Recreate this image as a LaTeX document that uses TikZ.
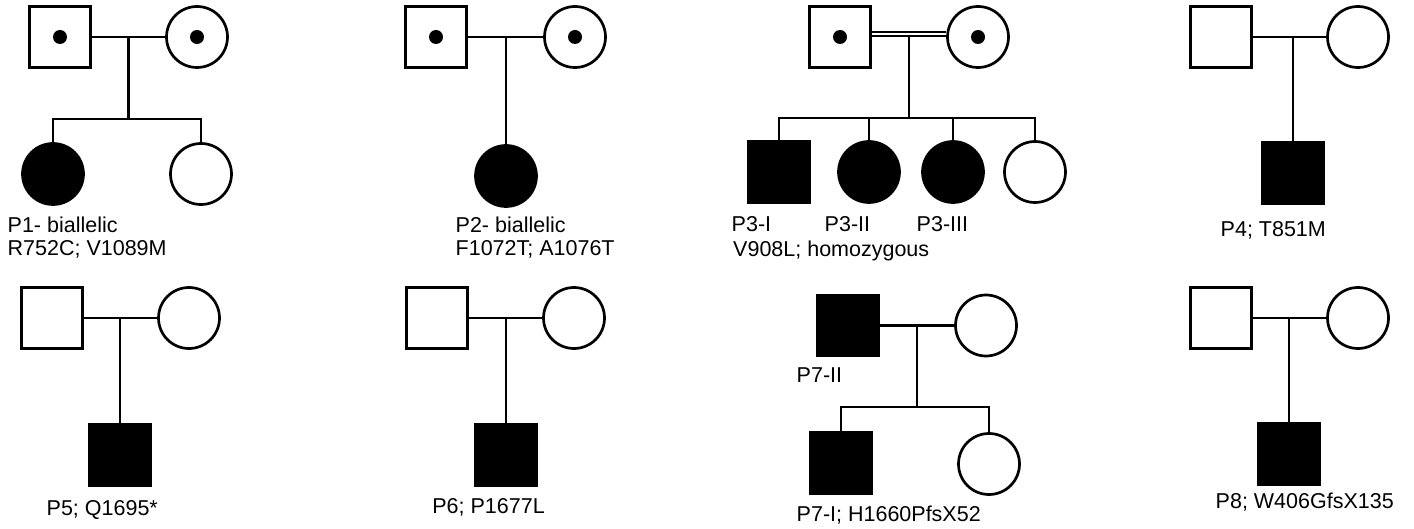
\documentclass[tikz,border=0pt]{standalone}
\usepackage{fontspec}
\setmainfont{Liberation Sans}
\tikzset{
  male/.style={rectangle, draw=black, line width=2.7pt, minimum size=61pt, inner sep=0pt},
  female/.style={circle, draw=black, line width=2.7pt, minimum size=61pt, inner sep=0pt},
  affected/.style={fill=black},
  carrier/.style={path picture={\fill[black] (path picture bounding box.center) circle[radius=7pt];}},
  link/.style={draw=black, line width=2.7pt},
  tag/.style={anchor=base west, inner sep=0pt, font=\fontsize{21.5}{25}\selectfont}
}

\begin{document}
\begin{tikzpicture}[x=1pt, y=-1pt]
    \useasboundingbox (0,0) rectangle (1414,529);

    % 1. Familia P1
    \node[male, carrier] (F1) at (60,37) {};
    \node[female, carrier] (M1) at (197,37) {};
    \node[female, affected] (C1a) at (53,174) {};
    \node[female] (C1b) at (201,174) {};
    \draw[link] (F1) -- (M1) coordinate[pos=.5] (J1);
    \coordinate (S1) at (J1 |- 0,119);
    \draw[link] (J1) -- (S1);
    \draw[link] (C1a.north) |- (S1) -| (C1b.north);
    \node[tag] (L1a) at (7.5,233) {P1- biallelic};
    \node[tag] (L1b) at (7.5,256) {R752C; V1089M};

    % 2. Familia P2
    \node[male, carrier] (F2) at (436,37) {};
    \node[female, carrier] (M2) at (575,37) {};
    \node[female, affected] (C2) at (506,176) {};
    \draw[link] (F2) -- (M2) coordinate[pos=.5] (J2);
    \draw[link] (C2 |- J2) -- (C2);
    \node[tag] (L2a) at (455.5,233) {P2- biallelic};
    \node[tag] (L2b) at (455.5,256) {F1072T; A1076T};

    % 3. Familia P3 (consanguinea)
    \node[male, carrier] (F3) at (840,37) {};
    \node[female, carrier] (M3) at (978,37) {};
    \draw[line width=1.6pt, double, double distance=2pt] ([yshift=3pt]F3.east) -- ([yshift=3pt]M3.west) coordinate[pos=.5] (J3);
    \node[male, affected] (C3a) at (779,172) {};
    \node[female, affected] (C3b) at (869,172) {};
    \node[female, affected] (C3c) at (953,172) {};
    \node[female] (C3d) at (1035,172) {};
    \coordinate (S3) at (J3 |- 0,118);
    \draw[link] ([yshift=-1.8pt]J3) -- (S3);
    \draw[link] (C3a.north) |- (S3) -| (C3d.north);
    \foreach \k in {b,c}
        \draw[link] (C3\k.north) -- (C3\k.north |- S3);
    \node[tag] (L3a) at (731.5,232) {P3-I};
    \node[tag] (L3b) at (824.5,232) {P3-II};
    \node[tag] (L3c) at (916.5,232) {P3-III};
    \node[tag] (L3d) at (733,256.5) {V908L; homozygous};

    % 4. Familia P4
    \node[male] (F4) at (1221,37) {};
    \node[female] (M4) at (1358,37) {};
    \node[male, affected] (C4) at (1293,173) {};
    \draw[link] (F4) -- (M4) coordinate[pos=.5] (J4);
    \draw[link] (C4 |- J4) -- (C4);
    \node[tag] (L4) at (1220.5,237) {P4; T851M};

    % 5. Familia P5
    \node[male] (F5) at (52,318) {};
    \node[female] (M5) at (189,318) {};
    \node[male, affected] (C5) at (120,455) {};
    \draw[link] (F5) -- (M5) coordinate[pos=.5] (J5);
    \draw[link] (C5 |- J5) -- (C5);
    \node[tag] (L5) at (46.5,515) {P5; Q1695*};

    % 6. Familia P6
    \node[male] (F6) at (437,318) {};
    \node[female] (M6) at (574,318) {};
    \node[male, affected] (C6) at (506,455) {};
    \draw[link] (F6) -- (M6) coordinate[pos=.5] (J6);
    \draw[link] (C6 |- J6) -- (C6);
    \node[tag] (L6) at (432.2,513) {P6; P1677L};

    % 7. Familia P7
    \node[male, affected] (F7) at (848,325.5) {};
    \node[female] (M7) at (986,325.5) {};
    \node[male, affected] (C7a) at (841,463) {};
    \node[female] (C7b) at (989,464) {};
    \draw[link] (F7) -- (M7) coordinate[pos=.5] (J7);
    \coordinate (S7) at (J7 |- 0,407);
    \draw[link] (J7) -- (S7);
    \draw[link] (C7a.north) |- (S7) -| (C7b.north);
    \node[tag] (L7a) at (796.5,382) {P7-II};
    \node[tag] (L7b) at (796.5,521.5) {P7-I; H1660PfsX52};

    % 8. Familia P8
    \node[male] (F8) at (1221,318) {};
    \node[female] (M8) at (1358,318) {};
    \node[male, affected] (C8) at (1289,454) {};
    \draw[link] (F8) -- (M8) coordinate[pos=.5] (J8);
    \draw[link] (C8 |- J8) -- (C8);
    \node[tag] (L8) at (1215.5,508) {P8; W406GfsX135};

\end{tikzpicture}
\end{document}
